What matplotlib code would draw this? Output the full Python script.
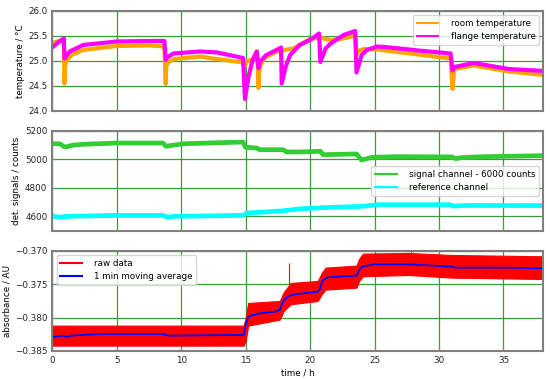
import numpy as np
import matplotlib
matplotlib.use("Agg")
import matplotlib.pyplot as plt
from matplotlib.lines import Line2D

# --- temperatures (°C), band centres ---
room_t = [0, 0.5, 0.9, 0.95, 1.0, 1.1, 1.5, 2.4, 5.0, 7.6, 8.7, 8.8, 8.85, 9.0, 9.5,
          11.5, 12.2, 14.8, 14.95, 15.05, 15.6, 15.9, 16.0, 16.05, 16.15, 16.4, 17.4,
          18.7, 20.0, 20.75, 21.6, 22.6, 23.5, 23.6, 23.7, 24.2, 25.2, 25.8, 28.4,
          30.9, 31.05, 31.2, 32.7, 35.4, 38.1]
room_temp = [25.36, 25.40, 25.42, 24.55, 24.9, 25.0, 25.12, 25.22, 25.30, 25.31, 25.29,
             24.54, 24.9, 24.98, 25.04, 25.09, 25.06, 24.97, 24.90, 24.98, 25.05, 25.19,
             24.46, 24.8, 24.9, 25.05, 25.19, 25.25, 25.44, 25.47, 25.42, 25.45, 25.51,
             25.12, 25.2, 25.24, 25.23, 25.21, 25.13, 25.05, 24.44, 24.84, 24.91, 24.79,
             24.72]

flange_t = [0, 0.5, 0.9, 0.95, 1.0, 1.37, 2.4, 5.0, 7.6, 8.7, 8.8, 8.85, 9.4, 11.5,
            12.8, 14.8, 14.95, 15.2, 15.5, 15.85, 16.0, 16.1, 16.6, 17.4, 17.75, 17.8,
            18.1, 18.45, 19.2, 20.0, 20.7, 20.8, 21.2, 21.6, 22.6, 23.5, 23.6, 24.0,
            24.4, 25.2, 25.8, 28.4, 30.9, 31.05, 31.2, 32.7, 35.4, 38.1]
flange_temp = [25.27, 25.38, 25.45, 25.05, 25.08, 25.19, 25.32, 25.39, 25.40, 25.40,
               25.02, 25.06, 25.15, 25.19, 25.17, 25.06, 24.24, 24.65, 24.98, 25.19,
               24.86, 24.98, 25.12, 25.22, 25.27, 24.55, 24.88, 25.12, 25.32, 25.42,
               25.55, 24.98, 25.25, 25.35, 25.52, 25.60, 24.77, 25.12, 25.22, 25.29,
               25.28, 25.21, 25.15, 24.81, 24.88, 24.96, 24.84, 24.80]

# --- detector signals (counts) ---
sig_t = [0, 0.6, 0.9, 1.1, 1.6, 2.4, 5.0, 8.6, 8.8, 9.0, 10.2, 14.8, 15.0, 15.85,
         16.1, 17.9, 18.2, 19.2, 20.8, 21.0, 23.6, 24.0, 24.8, 26.6, 31.0, 31.3,
         31.7, 33.1, 38.1]
signal = [5110, 5110, 5090, 5088, 5100, 5106, 5115, 5115, 5092, 5095, 5110, 5122,
          5085, 5080, 5068, 5068, 5052, 5052, 5057, 5033, 5038, 4995, 5014, 5019,
          5017, 5005, 5012, 5018, 5026]

ref_t = [0, 0.6, 1.2, 5.0, 8.6, 8.9, 9.5, 14.8, 15.1, 17.9, 19.2, 21.4, 24.0, 25.2,
         30.8, 31.2, 32.0, 38.1]
reference = [4600, 4592, 4598, 4605, 4605, 4592, 4598, 4605, 4621, 4637, 4651, 4661,
             4668, 4680, 4680, 4670, 4675, 4674]

# --- absorbance (AU) ---
avg_t = [0, 0.8, 1.1, 1.5, 3.7, 8.6, 9.0, 14.6, 14.85, 15.0, 15.2, 16.1, 17.3,
         17.65, 17.8, 17.95, 18.3, 18.8, 20.6, 20.75, 20.9, 21.0, 21.4, 23.6, 23.75,
         23.9, 24.05, 25.0, 27.6, 31.0, 31.3, 35.4, 38.1]
avg_abs = [-0.38290, -0.38270, -0.38290, -0.38270, -0.38245, -0.38245, -0.38270,
           -0.38260, -0.38260, -0.38120, -0.37985, -0.37935, -0.37910, -0.37885,
           -0.37810, -0.37740, -0.37680, -0.37650, -0.37610, -0.37580, -0.37480,
           -0.37435, -0.37395, -0.37370, -0.37310, -0.37260, -0.37235, -0.37200,
           -0.37200, -0.37235, -0.37250, -0.37250, -0.37260]

raw_t = [0, 14.85, 15.0, 15.2, 17.65, 17.95, 18.5, 20.6, 20.9, 21.2, 23.6, 23.8,
         24.1, 27.6, 31.0, 38.1]
raw_hi = [-0.3812, -0.3812, -0.3800, -0.3778, -0.3775, -0.3762, -0.3748, -0.3745,
          -0.3733, -0.3725, -0.3722, -0.3712, -0.3704, -0.3703, -0.3706, -0.3708]
raw_lo = [-0.3842, -0.3842, -0.3835, -0.3812, -0.3803, -0.3790, -0.3780, -0.3775,
          -0.3765, -0.3758, -0.3755, -0.3745, -0.3738, -0.3736, -0.3740, -0.3742]
spike_t = [18.4, 27.8]
spike_base = [-0.3750, -0.3705]
spike_top = [-0.3718, -0.3700]

plt.rcParams['font.size'] = 6.3
plt.rcParams['axes.labelpad'] = 2.5
fig, (ax1, ax2, ax3) = plt.subplots(3, 1, sharex=True, figsize=(5.5, 3.79), dpi=100)
fig.subplots_adjust(left=0.095, right=0.988, bottom=0.074, top=0.971, hspace=0.2)

grid_col = '#3c9a3c'
for ax in (ax1, ax2, ax3):
    ax.grid(True, color=grid_col, linewidth=0.9)
    ax.set_axisbelow(True)
    for s in ax.spines.values():
        s.set_color('#808080')
        s.set_linewidth(1.5)
    ax.tick_params(direction='in', length=3, color='#808080', labelcolor='#222222')
    ax.set_xlim(0, 38.1)

# top: temperatures
ax1.plot(room_t, room_temp, color='orange', linewidth=3.0)
ax1.plot(flange_t, flange_temp, color='magenta', linewidth=3.0)
ax1.set_ylim(24.0, 26.0)
ax1.set_yticks([24.0, 24.5, 25.0, 25.5, 26.0])
ax1.set_ylabel('temperature / °C')
ax1.legend([Line2D([], [], color='orange'), Line2D([], [], color='magenta')],
           ['room temperature', 'flange temperature'], loc='upper right',
           handlelength=2.5, handletextpad=1.4)

# middle: detector signals
ax2.plot(sig_t, signal, color='limegreen', linewidth=3.4)
ax2.plot(ref_t, reference, color='cyan', linewidth=3.4)
ax2.set_ylim(4495, 5200)
ax2.set_yticks([4600, 4800, 5000, 5200])
ax2.set_ylabel('det. signals / counts')
ax2.legend([Line2D([], [], color='limegreen'), Line2D([], [], color='cyan')],
           ['signal channel - 6000 counts', 'reference channel'], loc='center right',
           handlelength=2.5, handletextpad=1.4)

# bottom: absorbance
ax3.fill_between(raw_t, raw_lo, raw_hi, color='red', linewidth=0.8, edgecolor='red')
ax3.vlines(spike_t, spike_base, spike_top, color='red', linewidth=0.8)
ax3.plot(avg_t, avg_abs, color='blue', linewidth=1.3)
ax3.set_ylim(-0.385, -0.370)
ax3.set_yticks([-0.385, -0.380, -0.375, -0.370])
ax3.set_ylabel('absorbance / AU')
ax3.set_xticks([0, 5, 10, 15, 20, 25, 30, 35])
ax3.set_xlabel('time / h', labelpad=3)
ax3.legend([Line2D([], [], color='red'), Line2D([], [], color='blue')],
           ['raw data', '1 min moving average'], loc='upper left',
           handlelength=2.5, handletextpad=1.4)

fig.savefig('out.png', dpi=100)
